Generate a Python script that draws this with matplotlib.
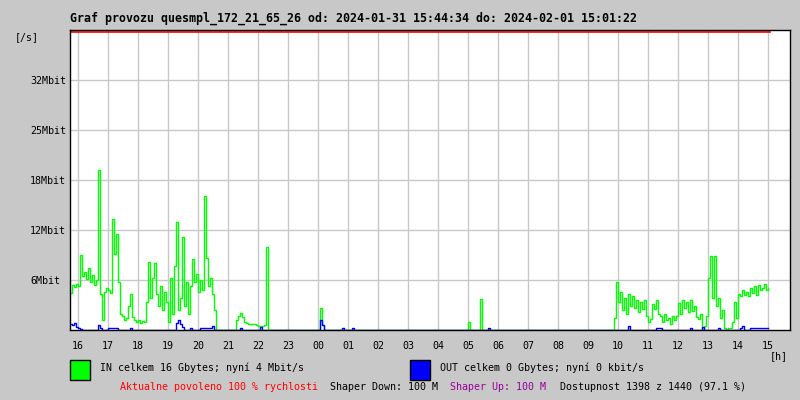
import numpy as np
import matplotlib.pyplot as plt

# traffic samples, one every 4 minutes starting 15:44 (Mbit/s)
start_hour = 15 + 44 / 60
step_hours = 4 / 60

in_mbit = [
    4.6, 5.6, 5.4, 5.8, 5.5, 9.4, 6.8, 7.2, 6.4, 7.8,
    6.0, 6.9, 5.6, 6.2, 20.0, 4.5, 1.2, 4.8, 5.2, 5.0,
    4.6, 13.9, 9.5, 12.0, 6.0, 2.0, 1.8, 1.2, 1.5, 3.0,
    4.5, 1.6, 1.3, 1.0, 1.2, 0.9, 1.1, 1.0, 3.5, 8.5,
    4.0, 6.5, 8.4, 4.5, 3.0, 5.5, 2.5, 4.8, 3.5, 1.0,
    6.5, 2.0, 8.0, 13.5, 2.5, 4.0, 11.6, 3.0, 6.0, 2.0,
    5.5, 8.9, 6.0, 7.0, 4.8, 6.2, 5.0, 16.7, 9.0, 5.5,
    6.5, 4.5, 2.5, 0, 0, 0, 0, 0, 0, 0,
    0, 0, 0, 1.2, 1.8, 2.1, 1.6, 1.0, 0.9, 0.8,
    0.7, 0.7, 0.8, 0.6, 0.5, 0.5, 0.5, 0.6, 10.4, 0,
    0, 0, 0, 0, 0, 0, 0, 0, 0, 0,
    0, 0, 0, 0, 0, 0, 0, 0, 0, 0,
    0, 0, 0, 0, 0, 2.8, 0.6, 0, 0, 0,
    0, 0, 0, 0, 0, 0, 0, 0, 0, 0,
    0, 0, 0, 0, 0, 0, 0, 0, 0, 0,
    0, 0, 0, 0, 0, 0, 0, 0, 0, 0,
    0, 0, 0, 0, 0, 0, 0, 0, 0, 0,
    0, 0, 0, 0, 0, 0, 0, 0, 0, 0,
    0, 0, 0, 0, 0, 0, 0, 0, 0, 0,
    0, 0, 0, 0, 0, 0, 0, 0, 0, 1.0,
    0, 0, 0, 0, 0, 3.9, 0, 0, 0, 0,
    0, 0, 0, 0, 0, 0, 0, 0, 0, 0,
    0, 0, 0, 0, 0, 0, 0, 0, 0, 0,
    0, 0, 0, 0, 0, 0, 0, 0, 0, 0,
    0, 0, 0, 0, 0, 0, 0, 0, 0, 0,
    0, 0, 0, 0, 0, 0, 0, 0, 0, 0,
    0, 0, 0, 0, 0, 0, 0, 0, 0, 0,
    0, 0, 1.5, 6.0, 3.5, 4.8, 2.5, 4.0, 2.0, 4.5,
    3.0, 4.2, 2.8, 3.8, 2.2, 3.5, 2.6, 3.8, 1.8, 1.0,
    1.4, 3.2, 2.6, 3.8, 2.0, 1.8, 1.0, 2.0, 1.2, 1.5,
    0.8, 1.8, 1.2, 1.8, 3.4, 2.0, 3.8, 2.8, 3.5, 2.2,
    3.8, 2.4, 3.0, 1.6, 1.4, 2.0, 0, 0.5, 1.8, 6.5,
    9.2, 4.0, 9.2, 3.0, 4.0, 1.5, 2.5, 0.3, 0, 0.2,
    0.3, 1.0, 3.5, 1.5, 4.5, 4.2, 5.0, 4.4, 4.8, 4.2,
    5.2, 4.6, 5.5, 4.4, 5.6, 5.0, 5.2, 5.8, 5.0, 5.3,
]

out_mbit = [
    0.8, 0.6, 0.9, 0.4, 0.2, 0.1, 0, 0, 0, 0,
    0, 0, 0, 0, 0.6, 0.2, 0, 0, 0, 0.2,
    0.2, 0.2, 0.2, 0.2, 0, 0, 0, 0, 0, 0,
    0.3, 0, 0, 0, 0, 0, 0, 0, 0, 0,
    0, 0, 0, 0, 0, 0, 0, 0, 0, 0,
    0, 0, 0, 0.9, 1.3, 0.8, 0.4, 0, 0, 0,
    0.2, 0, 0, 0, 0, 0.2, 0.2, 0.2, 0.2, 0.2,
    0.2, 0.5, 0, 0, 0, 0, 0, 0, 0, 0,
    0, 0, 0, 0, 0, 0.3, 0, 0, 0, 0,
    0, 0, 0, 0, 0, 0.4, 0, 0, 0, 0,
    0, 0, 0, 0, 0, 0, 0, 0, 0, 0,
    0, 0, 0, 0, 0, 0, 0, 0, 0, 0,
    0, 0, 0, 0, 0, 1.2, 0.6, 0, 0, 0,
    0, 0, 0, 0, 0, 0, 0.3, 0, 0, 0,
    0, 0.2, 0, 0, 0, 0, 0, 0, 0, 0,
    0, 0, 0, 0, 0, 0, 0, 0, 0, 0,
    0, 0, 0, 0, 0, 0, 0, 0, 0, 0,
    0, 0, 0, 0, 0, 0, 0, 0, 0, 0,
    0, 0, 0, 0, 0, 0, 0, 0, 0, 0,
    0, 0, 0, 0, 0, 0, 0, 0, 0, 0,
    0, 0, 0, 0, 0, 0, 0, 0, 0, 0.3,
    0, 0, 0, 0, 0, 0, 0, 0, 0, 0,
    0, 0, 0, 0, 0, 0, 0, 0, 0, 0,
    0, 0, 0, 0, 0, 0, 0, 0, 0, 0,
    0, 0, 0, 0, 0, 0, 0, 0, 0, 0,
    0, 0, 0, 0, 0, 0, 0, 0, 0, 0,
    0, 0, 0, 0, 0, 0, 0, 0, 0, 0,
    0, 0, 0, 0, 0, 0, 0, 0, 0, 0.5,
    0, 0, 0, 0, 0, 0, 0, 0, 0, 0,
    0, 0, 0, 0.2, 0.2, 0.2, 0, 0, 0, 0,
    0, 0, 0, 0, 0, 0, 0, 0, 0, 0,
    0.2, 0, 0, 0, 0, 0, 0.4, 0, 0, 0,
    0, 0, 0, 0, 0.3, 0, 0, 0, 0, 0,
    0, 0, 0, 0, 0, 0.3, 0.5, 0, 0, 0,
    0.2, 0.2, 0.2, 0.2, 0.2, 0.2, 0.2, 0.2, 0.2, 0.2,
]

hour_labels = ["16", "17", "18", "19", "20", "21", "22", "23", "00", "01",
               "02", "03", "04", "05", "06", "07", "08", "09", "10", "11",
               "12", "13", "14", "15"]
y_ticks = [6.25, 12.5, 18.75, 25, 31.25]
y_labels = ["6Mbit", "12Mbit", "18Mbit", "25Mbit", "32Mbit"]
y_max = 37.5

title = "Graf provozu quesmpl_172_21_65_26 od: 2024-01-31 15:44:34 do: 2024-02-01 15:01:22"
in_text = "IN celkem 16 Gbytes; nyní 4 Mbit/s"
out_text = "OUT celkem 0 Gbytes; nyní 0 kbit/s"

bg = "#c8c8c8"
mono = "DejaVu Sans Mono"

t = start_hour + step_hours * np.arange(len(in_mbit))

fig = plt.figure(figsize=(8, 4), dpi=100, facecolor=bg)
ax = fig.add_axes([70 / 800, 70 / 400, 720 / 800, 300 / 400])
ax.set_facecolor("white")

ax.set_xlim(start_hour, start_hour + 24)
ax.set_ylim(0, y_max)
ax.set_xticks(np.arange(16, 40))
ax.set_xticklabels(hour_labels, family=mono, fontsize=7.2)
ax.set_yticks(y_ticks)
ax.set_yticklabels(y_labels, family=mono, fontsize=7.2, ha="left")
ax.tick_params(axis="both", length=0)
ax.tick_params(axis="x", pad=8)
ax.tick_params(axis="y", pad=28.8)
ax.grid(True, color="#c8c8c8", linewidth=1)
ax.set_axisbelow(True)
for s in ax.spines.values():
    s.set_color("black")
    s.set_linewidth(1.0)

# limit line just under the top frame
ax.plot([start_hour, t[-1] + step_hours], [y_max - 0.2] * 2, color="red", lw=1.2)

ax.plot(t, in_mbit, drawstyle="steps-post", color="#00ff00", lw=1.0)
ax.plot(t, out_mbit, drawstyle="steps-post", color="#0000ff", lw=1.0)

fig.text(70 / 800, 1 - 18 / 400, title, family=mono, fontsize=8.4,
         fontweight="bold", va="center")
fig.text(15 / 800, 1 - 37 / 400, "[/s]", family=mono, fontsize=7.2, va="center")
fig.text(770 / 800, 1 - 356 / 400, "[h]", family=mono, fontsize=7.2, va="center")

# legend boxes
fig.patches.append(plt.Rectangle((70 / 800, 1 - 380 / 400), 20 / 800, 20 / 400,
                                 transform=fig.transFigure, facecolor="#00ff00",
                                 edgecolor="black", lw=1))
fig.patches.append(plt.Rectangle((410 / 800, 1 - 380 / 400), 20 / 800, 20 / 400,
                                 transform=fig.transFigure, facecolor="#0000ff",
                                 edgecolor="black", lw=1))
fig.text(100 / 800, 1 - 368 / 400, in_text, family=mono, fontsize=7.2, va="center")
fig.text(440 / 800, 1 - 368 / 400, out_text, family=mono, fontsize=7.2, va="center")

fig.text(120 / 800, 1 - 387 / 400, "Aktualne povoleno 100 % rychlosti",
         family=mono, fontsize=7.2, va="center", color="red")
fig.text(330 / 800, 1 - 387 / 400, "Shaper Down: 100 M",
         family=mono, fontsize=7.2, va="center", color="black")
fig.text(450 / 800, 1 - 387 / 400, "Shaper Up: 100 M",
         family=mono, fontsize=7.2, va="center", color="#990099")
fig.text(560 / 800, 1 - 387 / 400, "Dostupnost 1398 z 1440 (97.1 %)",
         family=mono, fontsize=7.2, va="center", color="black")

fig.savefig("out.png", dpi=100, facecolor=bg)
